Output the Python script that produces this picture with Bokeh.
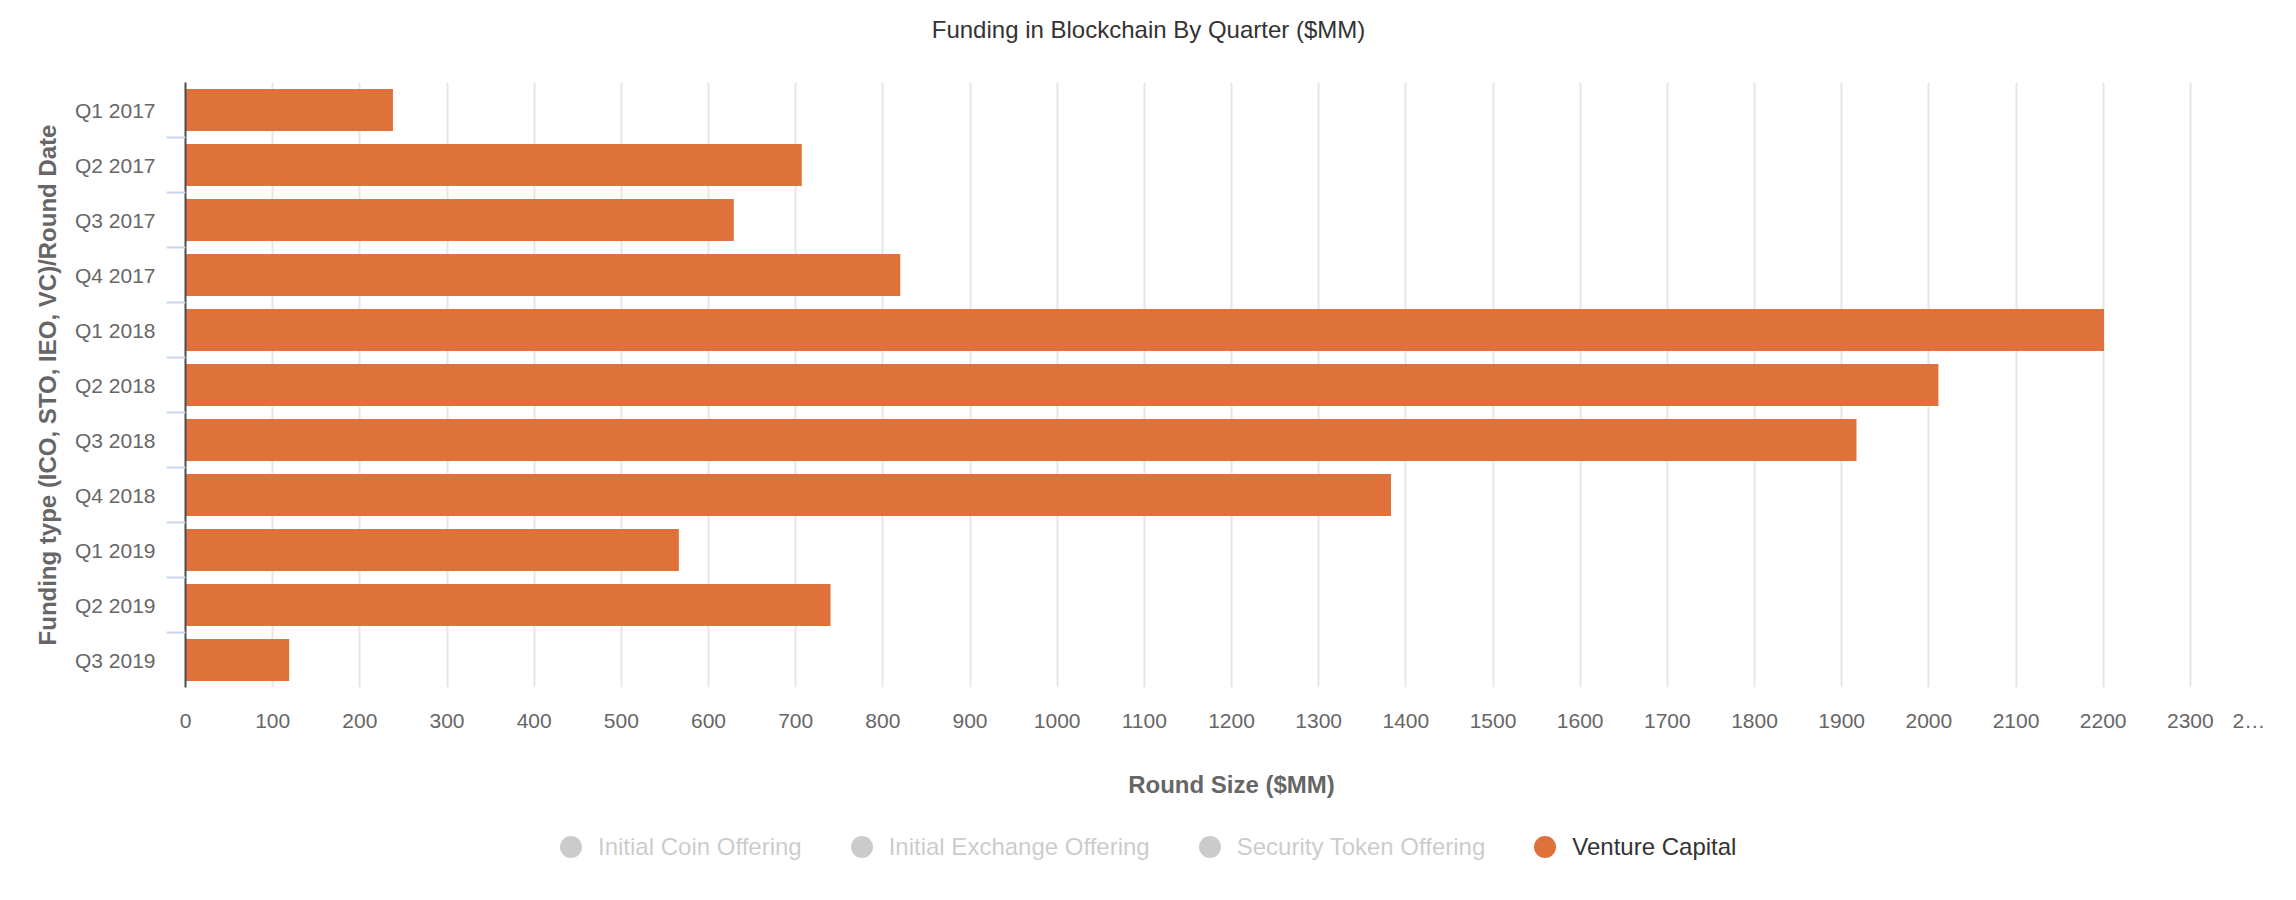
from bokeh.plotting import figure
from bokeh.layouts import column
from bokeh.models import (Range1d, FactorRange, CategoricalAxis, Label,
                          SingleIntervalTicker, Legend, LegendItem, ColumnDataSource)
from bokeh.embed import file_html
from bokeh.resources import INLINE

# ---------------- data ----------------
title_text = "Funding in Blockchain By Quarter ($MM)"
quarters = ["Q1 2017", "Q2 2017", "Q3 2017", "Q4 2017",
            "Q1 2018", "Q2 2018", "Q3 2018", "Q4 2018",
            "Q1 2019", "Q2 2019", "Q3 2019"]
venture_capital = [238, 707, 629, 820, 2201, 2011, 1917, 1383, 566, 740, 119]
hidden_series = ["Initial Coin Offering", "Initial Exchange Offering", "Security Token Offering"]
shown_series = "Venture Capital"
x_max = 2400
x_tick_step = 100
last_tick_label = "2\u2026"

# ---------------- style ----------------
FONT = "Liberation Sans"
VC_COLOR = "#DF713A"
LABEL_COLOR = "#666666"
W = 2288


def strip(height):
    f = figure(width=W, height=height, output_backend="svg", toolbar_location=None,
               x_axis_location=None, y_axis_location=None,
               x_range=Range1d(0, 1), y_range=Range1d(0, 1),
               min_border_left=0, min_border_right=0, min_border_top=0, min_border_bottom=0)
    f.outline_line_color = None
    f.grid.visible = False
    return f


# ---------------- header (title) ----------------
hd = strip(80)
hd.add_layout(Label(x=963, y=51, x_units="screen", y_units="screen", text=title_text,
                    text_align="center", text_baseline="middle",
                    text_font=FONT, text_font_size="24px", text_color="#333333"))

# ---------------- main chart ----------------
p = figure(width=W, height=720,
           y_range=FactorRange(factors=quarters[::-1]),
           x_range=Range1d(0, x_max),
           output_backend="svg", toolbar_location=None,
           min_border_left=185, min_border_right=11,
           min_border_top=2, min_border_bottom=113)
p.outline_line_color = None
p.background_fill_color = "white"

src = ColumnDataSource(dict(quarter=quarters, value=venture_capital))
p.hbar(y="quarter", right="value", left=0, height=0.76, source=src,
       fill_color=VC_COLOR, line_color=None)

# x axis (value axis)
xa = p.xaxis[0]
xa.ticker = SingleIntervalTicker(interval=x_tick_step, num_minor_ticks=0)
xa.axis_line_color = None
xa.major_tick_out = 0
xa.major_tick_in = 0
xa.minor_tick_line_color = None
xa.major_label_standoff = 21
xa.major_label_text_font = FONT
xa.major_label_text_font_size = "21px"
xa.major_label_text_color = LABEL_COLOR
xa.major_label_overrides = {x_max: last_tick_label + "\u00a0" * 4}
xa.axis_label = "Round Size ($MM)"
xa.axis_label_text_font = FONT
xa.axis_label_text_font_size = "24px"
xa.axis_label_text_font_style = "bold"
xa.axis_label_text_color = LABEL_COLOR
xa.axis_label_standoff = 36

p.xgrid.grid_line_color = "#e6e6e6"
p.xgrid.grid_line_width = 2
p.ygrid.visible = False

# y axis: categories (outer) + category-boundary ticks (inner)
ya = p.yaxis[0]
ya.axis_line_color = None
ya.major_tick_out = 0
ya.major_tick_in = 0
ya.minor_tick_line_color = None
ya.major_label_standoff = 11
ya.major_label_text_font = FONT
ya.major_label_text_font_size = "21px"
ya.major_label_text_color = LABEL_COLOR
ya.axis_label = "Funding type (ICO, STO, IEO, VC)/Round Date"
ya.axis_label_text_font = FONT
ya.axis_label_text_font_size = "24px"
ya.axis_label_text_font_style = "bold"
ya.axis_label_text_color = LABEL_COLOR
ya.axis_label_standoff = 11

bound_names = ["b%d" % i for i in range(len(quarters) + 1)]
p.extra_y_ranges = {"bounds": FactorRange(factors=bound_names, range_padding=-0.5,
                                          range_padding_units="absolute")}
bounds_axis = CategoricalAxis(y_range_name="bounds",
                              major_tick_out=19, major_tick_in=0,
                              major_tick_line_color="#ccd6eb", major_tick_line_width=2,
                              minor_tick_line_color=None,
                              axis_line_color="#4d4d4d", axis_line_width=2,
                              major_label_text_font_size="0px", major_label_text_alpha=0,
                              major_label_standoff=0)
p.left = [bounds_axis, ya]

# ---------------- legend strip ----------------
lg = strip(92)
items = []
for name in hidden_series:
    r = lg.scatter(x=[-1], y=[-1], marker="circle", size=20, fill_color="#333333",
                   line_color=None, visible=False)
    items.append(LegendItem(label=name, renderers=[r]))
r_vc = lg.scatter(x=[-1], y=[-1], marker="circle", size=20, fill_color=VC_COLOR, line_color=None)
items.append(LegendItem(label=shown_series, renderers=[r_vc]))

legend = Legend(items=items, orientation="horizontal", location=(358, 18),
                click_policy="hide", glyph_width=55, glyph_height=55,
                label_standoff=0, spacing=32, padding=0, margin=0,
                border_line_color=None, background_fill_alpha=0,
                label_text_font=FONT, label_text_font_size="24px",
                label_text_color="#333333",
                inactive_fill_color="white", inactive_fill_alpha=0.75)
lg.add_layout(legend, "center")

layout = column(hd, p, lg, spacing=0)
open("out.html", "w").write(file_html(layout, INLINE))
